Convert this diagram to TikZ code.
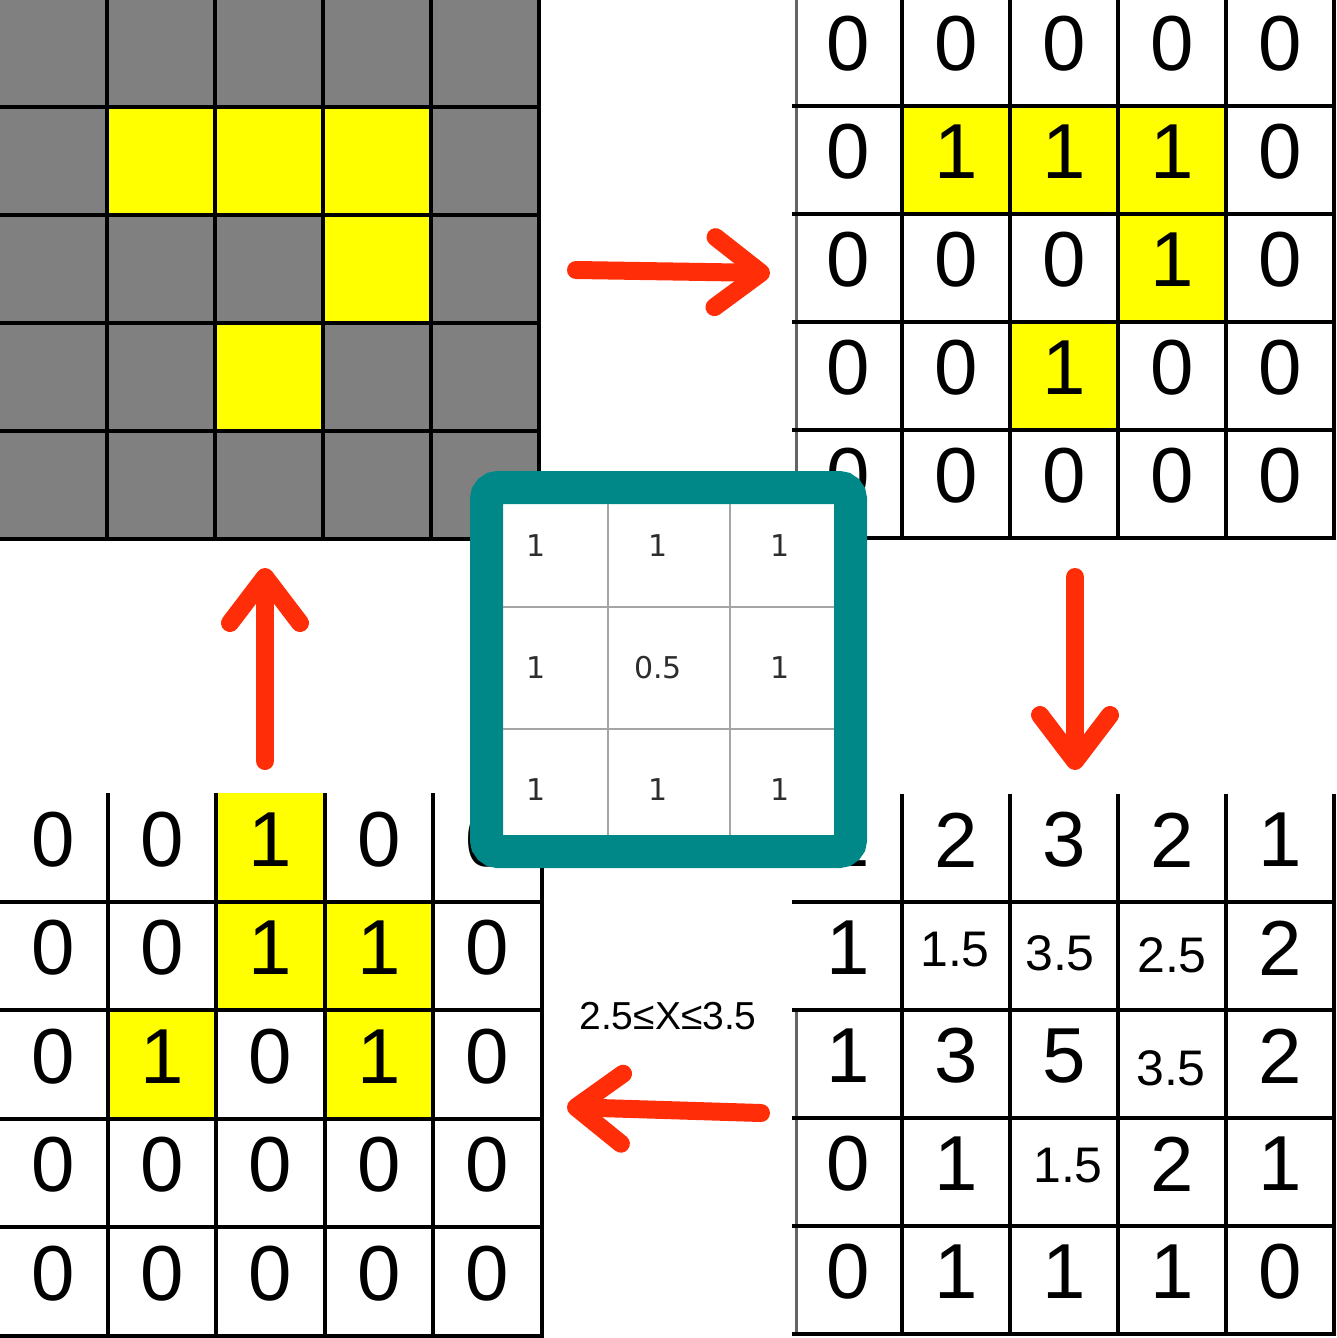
\documentclass[tikz,border=0pt]{standalone}
\usepackage{fontspec}
\setmainfont{Liberation Sans}
\newfontfamily\kernfont{DejaVu Sans}
\usetikzlibrary{arrows.meta}
\definecolor{cellgray}{RGB}{128,128,128}
\definecolor{cellyellow}{RGB}{255,255,0}
\definecolor{tealbox}{RGB}{0,136,136}
\definecolor{arrowred}{RGB}{255,45,8}
\definecolor{kerntext}{RGB}{45,45,45}
\definecolor{kernline}{RGB}{165,165,165}
\definecolor{edgegray}{RGB}{100,100,100}
\tikzset{
  gridline/.style={draw=black, line width=4pt, line cap=rect},
  edgeline/.style={draw=edgegray, line width=3pt},
  bigdigit/.style={inner sep=0pt, font=\fontsize{78}{78}\selectfont},
  smalldigit/.style={inner sep=0pt, font=\fontsize{50}{50}\selectfont},
  kerndigit/.style={inner sep=0pt, text=kerntext, font=\kernfont\fontsize{30}{30}\selectfont},
  kernbox/.style={draw=tealbox, fill=white, line width=33pt, rounded corners=11.5pt, minimum width=364pt, minimum height=364pt, inner sep=0pt, outer sep=0pt},
  kernrule/.style={draw=kernline, line width=2.5pt},
  flowarrow/.style={draw=arrowred, line width=18pt, line cap=round, -{Straight Barb[round, length=46pt, width=70pt]}},
  threshold/.style={inner sep=0pt, font=\fontsize{39}{39}\selectfont},
}
\begin{document}
\begin{tikzpicture}[x=1pt, y=-1pt]
\useasboundingbox (0,0) rectangle (1337,1338);
\fill[white] (0,0) rectangle (1337,1338);

% ---------- top-left: image ----------
\fill[cellgray] (-1,-1) rectangle (539,539);
\foreach \r/\c in {1/1,1/2,1/3,2/3,3/2}
  \fill[cellyellow] ({-1+108*\c},{-1+108*\r}) rectangle ++(108,108);
\foreach \i in {1,...,5} {
  \draw[gridline] ({-1+108*\i},-1) -- ({-1+108*\i},539);
  \draw[gridline] (-1,{-1+108*\i}) -- (539,{-1+108*\i});
}

% ---------- top-right: binary matrix ----------
\foreach \r/\c in {1/1,1/2,1/3,2/3,3/2}
  \fill[cellyellow] ({794+108*\c},{-2+108*\r}) rectangle ++(108,108);
\draw[edgeline] (796,-2) -- (796,538);
\foreach \i in {1,...,5} {
  \draw[gridline] ({794+108*\i},-2) -- ({794+108*\i},538);
  \draw[gridline] (794,{-2+108*\i}) -- (1334,{-2+108*\i});
}
\foreach \row [count=\r from 0] in {{0,0,0,0,0},{0,1,1,1,0},{0,0,0,1,0},{0,0,1,0,0},{0,0,0,0,0}}
  \foreach \v [count=\c from 0] in \row
    \node[bigdigit] (tr\r\c) at ({848+108*\c},{44+108*\r}) {\v};

% ---------- bottom-right: convolution result ----------
\draw[edgeline] (796,1010) -- (796,1334);
\foreach \i in {1,...,5} {
  \draw[gridline] ({794+108*\i},796) -- ({794+108*\i},1334);
  \draw[gridline] (794,{794+108*\i}) -- (1334,{794+108*\i});
}
\foreach \r/\c/\v in {0/0/1,0/1/2,0/2/3,0/3/2,0/4/1,
                      1/0/1,1/4/2,
                      2/0/1,2/1/3,2/2/5,2/4/2,
                      3/0/0,3/1/1,3/3/2,3/4/1,
                      4/0/0,4/1/1,4/2/1,4/3/1,4/4/0}
  \node[bigdigit] (br\r\c) at ({848+108*\c},{840+108*\r}) {\v};
\node[smalldigit] (br11) at (955,950) {1.5};
\node[smalldigit] (br12) at (1060,953) {3.5};
\node[smalldigit] (br13) at (1172,955) {2.5};
\node[smalldigit] (br23) at (1171,1068) {3.5};
\node[smalldigit] (br32) at (1068,1166) {1.5};

% ---------- bottom-left: thresholded matrix ----------
\foreach \r/\c in {0/2,1/2,1/3,2/1,2/3}
  \fill[cellyellow] ({-1+108.5*\c},{793+108.5*\r}) rectangle ++(108.5,108.5);
\foreach \i in {1,...,5} {
  \draw[gridline] ({-1+108.5*\i},795) -- ({-1+108.5*\i},1335.5);
  \draw[gridline] (-1,{793+108.5*\i}) -- (541.5,{793+108.5*\i});
}
\foreach \row [count=\r from 0] in {{0,0,1,0,0},{0,0,1,1,0},{0,1,0,1,0},{0,0,0,0,0},{0,0,0,0,0}}
  \foreach \v [count=\c from 0] in \row
    \node[bigdigit] (bl\r\c) at ({53.25+108.5*\c},{839.25+108.5*\r}) {\v};

% ---------- centre: kernel ----------
\node[kernbox] (kernel) at (668.5,669.5) {};
\draw[kernrule] (608,504) -- (608,835);
\draw[kernrule] (730,504) -- (730,835);
\draw[kernrule] (503,607) -- (834,607);
\draw[kernrule] (503,729) -- (834,729);
\foreach \row [count=\r from 0] in {{1,1,1},{1,0.5,1},{1,1,1}}
  \foreach \v [count=\c from 0] in \row
    \node[kerndigit] (k\r\c) at ({536+122*\c},{546+122*\r}) {\v};

% ---------- threshold label ----------
\node[threshold] (thr) at (668,1016) {2.5≤X≤3.5};

% ---------- arrows ----------
\coordinate (rA) at (576,270);  \coordinate (rB) at (770,273);
\coordinate (dA) at (1075,577); \coordinate (dB) at (1075,770);
\coordinate (lA) at (761,1113); \coordinate (lB) at (567,1107);
\coordinate (uA) at (265,761);  \coordinate (uB) at (265,568);
\draw[flowarrow] (rA) -- (rB);
\draw[flowarrow] (dA) -- (dB);
\draw[flowarrow] (lA) -- (lB);
\draw[flowarrow] (uA) -- (uB);
\end{tikzpicture}
\end{document}
